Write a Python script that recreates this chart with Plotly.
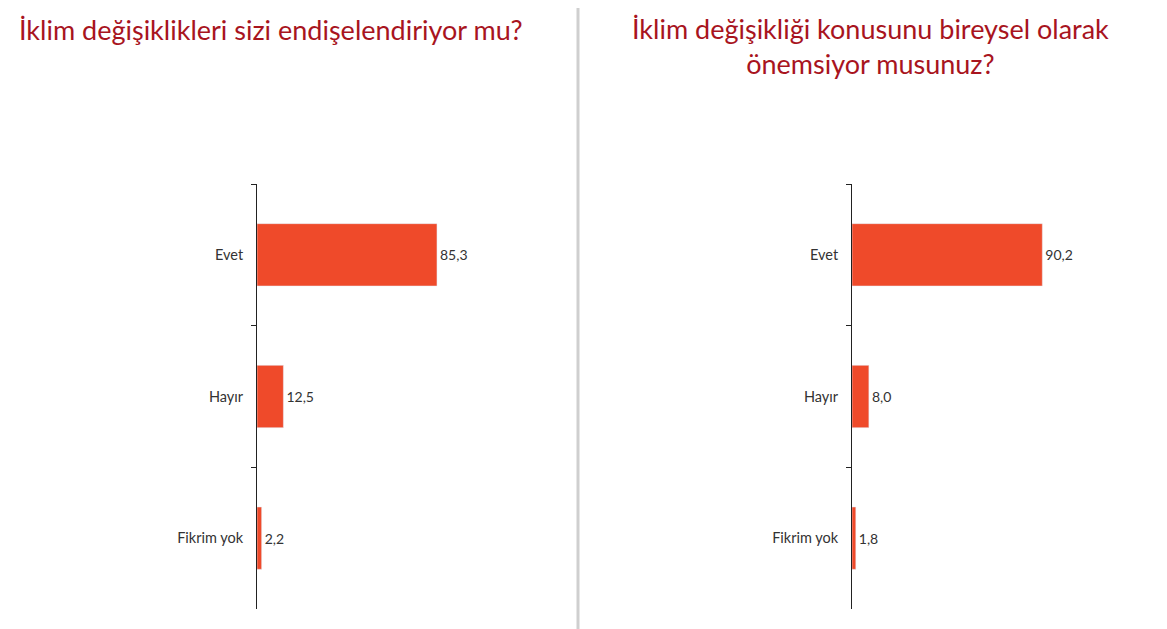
import plotly.graph_objects as go

categories = ["Evet", "Hayır", "Fikrim yok"]
left_values = [85.3, 12.5, 2.2]
right_values = [90.2, 8.0, 1.8]
left_labels = ["85,3", "12,5", "2,2"]
right_labels = ["90,2", "8,0", "1,8"]
left_title = "İklim değişiklikleri sizi endişelendiriyor mu?"
right_title = "İklim değişikliği konusunu bireysel olarak<br>önemsiyor musunuz?"

W, H = 1167, 629
OFF = 8  # page body margin
BAR = "#EF4A2A"
TITLE_C = "#A8141E"
FONT = "Lato"

def px_x(p):
    return (p - OFF) / W

def px_y(p):
    return 1 - (p - OFF) / H

fig = go.Figure()
fig.add_trace(go.Bar(y=categories, x=left_values, orientation="h", text=left_labels,
                     textposition="outside", marker_color=BAR, cliponaxis=False,
                     textfont=dict(family=FONT, size=14, color="#333"),
                     xaxis="x", yaxis="y", hoverinfo="skip"))
fig.add_trace(go.Bar(y=categories, x=right_values, orientation="h", text=right_labels,
                     textposition="outside", marker_color=BAR, cliponaxis=False,
                     textfont=dict(family=FONT, size=14, color="#333"),
                     xaxis="x2", yaxis="y2", hoverinfo="skip"))

ydom = [px_y(609), px_y(184)]
yax = dict(domain=ydom, autorange="reversed", showline=True, linecolor="#222", linewidth=1,
           ticks="outside", ticklen=5, tickcolor="#222", tickson="boundaries",
           tickfont=dict(family=FONT, size=14.5, color="#333"), ticklabelstandoff=10,
           showgrid=False, zeroline=False, fixedrange=True)
xax = dict(range=[0, 100], visible=False, showgrid=False, zeroline=False, fixedrange=True)

fig.update_layout(
    width=W, height=H, margin=dict(l=0, r=0, t=0, b=0),
    paper_bgcolor="white", plot_bgcolor="white", showlegend=False,
    bargap=0.56,
    xaxis=dict(xax, domain=[px_x(257), px_x(468)], anchor="y"),
    yaxis=dict(yax, anchor="x"),
    xaxis2=dict(xax, domain=[px_x(852), px_x(1063)], anchor="y2"),
    yaxis2=dict(yax, anchor="x2"),
    annotations=[
        dict(text=left_title, x=px_x(17), y=px_y(30), xref="paper", yref="paper",
             xanchor="left", yanchor="middle", showarrow=False,
             font=dict(family=FONT, size=27, color=TITLE_C)),
        dict(text=right_title, x=px_x(870), y=px_y(46), xref="paper", yref="paper",
             xanchor="center", yanchor="middle", showarrow=False, align="center",
             font=dict(family=FONT, size=27, color=TITLE_C)),
    ],
    shapes=[dict(type="line", xref="paper", yref="paper", x0=px_x(578), x1=px_x(578),
                 y0=0, y1=1, line=dict(color="#CFCFCF", width=3))],
)

fig.write_html("out.html")
